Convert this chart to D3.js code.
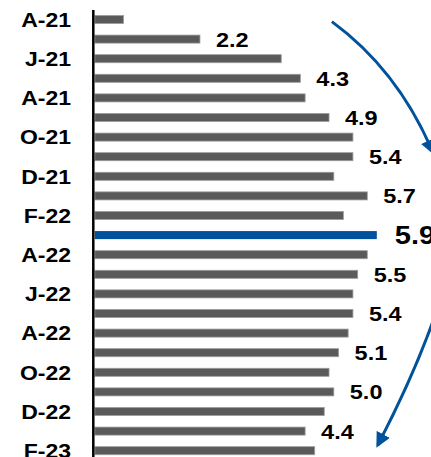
<!DOCTYPE html>
<html>
<head>
<meta charset="utf-8">
<script src="https://cdn.jsdelivr.net/npm/d3@7"></script>
<style>
    body { margin: 0; background: #fff; }
    svg { display: block; }
    text { font-family: "Liberation Sans", Arial, sans-serif; font-weight: bold; fill: #000; }
</style>
</head>
<body>
<div class="barChart"></div>
<script>

//months, top to bottom
var months = ["Apr-21", "May-21", "Jun-21", "Jul-21", "Aug-21", "Sep-21", "Oct-21", "Nov-21", "Dec-21",
    "Jan-22", "Feb-22", "Mar-22", "Apr-22", "May-22", "Jun-22", "Jul-22", "Aug-22", "Sep-22", "Oct-22",
    "Nov-22", "Dec-22", "Jan-23", "Feb-23"];

//bar values
var values = [0.6, 2.2, 3.9, 4.3, 4.4, 4.9, 5.4, 5.4, 5.0, 5.7, 5.2, 5.9, 5.7, 5.5, 5.4, 5.4, 5.3, 5.1, 4.9,
    5.0, 4.8, 4.4, 4.6];

//category labels, shown on every other month
var tickMonths = ["Apr-21", "Jun-21", "Aug-21", "Oct-21", "Dec-21", "Feb-22", "Apr-22", "Jun-22", "Aug-22",
    "Oct-22", "Dec-22", "Feb-23"];
var tickLabels = ["A-21", "J-21", "A-21", "O-21", "D-21", "F-22", "A-22", "J-22", "A-22", "O-22", "D-22", "F-23"];

//months that get a value label, and the highlighted (peak) month
var labelMonths = ["May-21", "Jul-21", "Sep-21", "Nov-21", "Jan-22", "Mar-22", "May-22", "Jul-22", "Sep-22",
    "Nov-22", "Jan-23"];
var peakMonth = "Mar-22";

var c = {
    width: 431,
    height: 457,
    axisX: 94.8,
    grey: "#5a5a5a",
    blue: "#00529b"
};

var data = months.map(function (m, i) {
    return {month: m, value: values[i]};
});

var svg = d3.select(".barChart").append("svg")
    .attr("width", c.width)
    .attr("height", c.height);

var x = d3.scaleLinear()
    .domain([0, 6.5])
    .range([c.axisX, c.axisX + 6.5 * 47.8]);

var y = d3.scaleBand()
    .domain(months)
    .range([9.7, 460.5])
    .paddingInner(0.59)
    .paddingOuter(0.295);

//centre of a (fractional) row index, used for the arrows
function yIdx(i) {
    return y(months[0]) + y.bandwidth() / 2 + i * y.step();
}

//bars
svg.selectAll(".bar")
    .data(data)
    .enter().append("rect")
    .attr("class", "bar")
    .attr("x", x(0))
    .attr("y", function (d) { return y(d.month); })
    .attr("width", function (d) { return x(d.value) - x(0); })
    .attr("height", y.bandwidth())
    .attr("fill", function (d) { return d.month === peakMonth ? c.blue : c.grey; })
    .attr("stroke", function (d) { return d.month === peakMonth ? "none" : "#9c9c9c"; })
    .attr("stroke-width", 0.8);

//vertical category axis line
svg.append("line")
    .attr("x1", c.axisX - 1.5)
    .attr("x2", c.axisX - 1.5)
    .attr("y1", 10)
    .attr("y2", c.height)
    .attr("stroke", "#000")
    .attr("stroke-width", 2.5);

//category labels
svg.selectAll(".catLabel")
    .data(tickMonths)
    .enter().append("text")
    .attr("class", "catLabel")
    .attr("transform", function (d) {
        return "translate(71," + (y(d) + y.bandwidth() / 2) + ") scale(1.15,1)";
    })
    .attr("text-anchor", "end")
    .attr("dy", "0.36em")
    .style("font-size", "20px")
    .text(function (d, i) { return tickLabels[i]; });

//value labels
svg.selectAll(".valLabel")
    .data(data.filter(function (d) { return labelMonths.indexOf(d.month) >= 0; }))
    .enter().append("text")
    .attr("class", "valLabel")
    .attr("transform", function (d) {
        var gap = d.month === peakMonth ? 18 : 16;
        return "translate(" + (x(d.value) + gap) + "," + (y(d.month) + y.bandwidth() / 2) + ") scale(1.12,1)";
    })
    .attr("dy", "0.36em")
    .style("font-size", function (d) { return d.month === peakMonth ? "26px" : "21px"; })
    .text(function (d) { return d.value.toFixed(1); });

//arrow heads
svg.append("defs").append("marker")
    .attr("id", "arrowHead")
    .attr("viewBox", "0 0 10 10")
    .attr("refX", 8)
    .attr("refY", 5)
    .attr("markerUnits", "userSpaceOnUse")
    .attr("markerWidth", 15)
    .attr("markerHeight", 15)
    .attr("orient", "auto")
    .append("path")
    .attr("d", "M0,0 L10,5 L0,10 Z")
    .attr("fill", c.blue);

//trend arrows: rising into the peak, then easing off
var arrows = [
    [[4.96, 0.11], [6.34, 2.58], [7.07, 6.76]],
    [[7.07, 15.43], [6.63, 18.39], [5.92, 21.71]]
];

arrows.forEach(function (a) {
    var p = d3.path();
    p.moveTo(x(a[0][0]), yIdx(a[0][1]));
    p.quadraticCurveTo(x(a[1][0]), yIdx(a[1][1]), x(a[2][0]), yIdx(a[2][1]));
    svg.append("path")
        .attr("d", p.toString())
        .attr("fill", "none")
        .attr("stroke", c.blue)
        .attr("stroke-width", 3)
        .attr("marker-end", "url(#arrowHead)");
});

</script>
</body>
</html>
